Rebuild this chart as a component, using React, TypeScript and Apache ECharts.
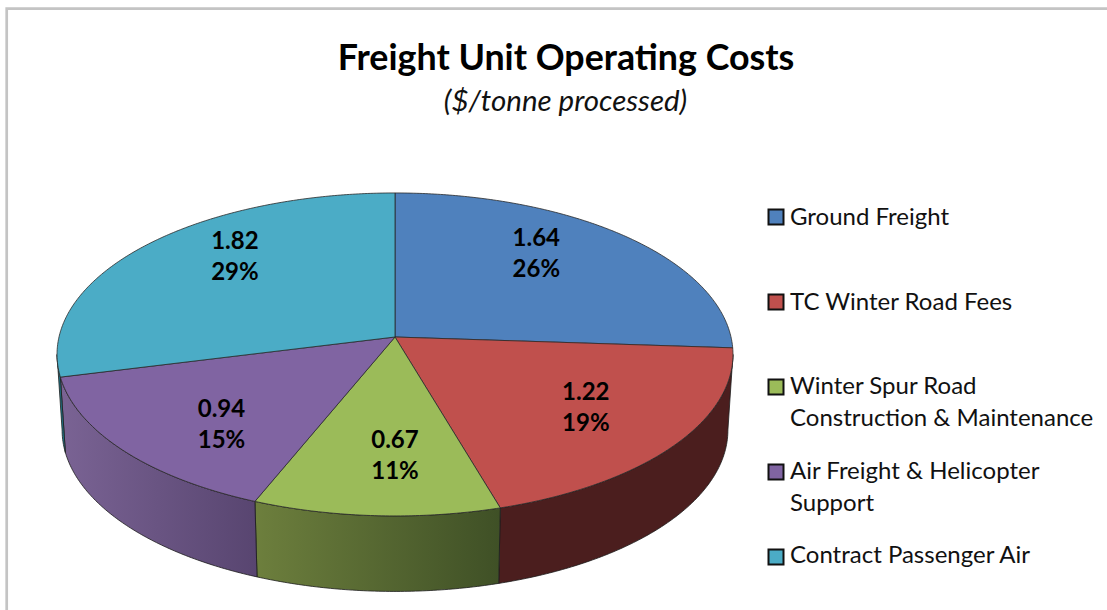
import React, { useEffect, useRef } from "react";
import * as echarts from "echarts";

const categories = ["Ground Freight", "TC Winter Road Fees", "Winter Spur Road\nConstruction & Maintenance", "Air Freight & Helicopter\nSupport", "Contract Passenger Air"];
const costValues = [1.64, 1.22, 0.67, 0.94, 1.82];
const topColors = ["#4f81bd", "#c0504d", "#9bbb59", "#8064a2", "#4bacc6"];
const wallStops = [
  ["#2f4f78", "#2f4f78"],
  ["#4b1e1e", "#4b1e1e"],
  ["#6d7f3d", "#3f5026"],
  ["#7a6394", "#584570"],
  ["#1f7486", "#1f7486"],
];
const labelNudges = [[-5, -20], [11, 0], [12, 3], [1, 14], [-1, -23]];

const FONT = "Lato";
const CX = 395, CY = 337, RX = 336, RY = 159.6, K = 0.108, DEPTH = 75.5, BOTTOM_SHRINK = 0.985;
const total = costValues.reduce((a, b) => a + b, 0);
const WALL_FROM = Math.PI - Math.acos(K);
const WALL_TO = Math.PI + Math.acos(K);

function project(theta: number, f = 1): [number, number] {
  const s = 1 / (1 + K * Math.cos(theta));
  return [CX + RX * f * Math.sin(theta) * s, CY - RY * f * Math.cos(theta) * s];
}
function arc(a: number, b: number): [number, number][] {
  const n = Math.max(2, Math.ceil(Math.abs(b - a) / 0.01));
  const pts: [number, number][] = [];
  for (let i = 0; i <= n; i++) pts.push(project(a + ((b - a) * i) / n));
  return pts;
}
function lower(p: [number, number]): [number, number] {
  return [CX + (p[0] - CX) * BOTTOM_SHRINK, p[1] + DEPTH];
}

export default function App() {
  const ref = useRef<HTMLDivElement>(null);
  useEffect(() => {
    document.body.style.margin = "0";
    const chart = echarts.init(ref.current!, undefined, { renderer: "svg" });
    let cum = 0;
    const rows = costValues.map((v) => {
      const start = (cum / total) * Math.PI * 2;
      cum += v;
      return [v, start, (cum / total) * Math.PI * 2];
    });

    const legendGraphics: any[] = [];
    categories.forEach((name, i) => {
      const y = 217 + 85 * i;
      const textY = 215.5 + 84.6 * i;
      legendGraphics.push({
        type: "rect",
        shape: { x: 768.5, y: y - 7.5, width: 15, height: 15 },
        style: { fill: topColors[i], stroke: "#111", lineWidth: 2 },
      });
      name.split("\n").forEach((line, j) => {
        legendGraphics.push({
          type: "text",
          x: 790,
          y: textY + j * 32,
          style: { text: line, font: `24px ${FONT}`, fill: "#111", verticalAlign: "middle" },
        });
      });
    });

    chart.setOption({
      animation: false,
      backgroundColor: "#ffffff",
      title: [
        {
          text: "Freight Unit Operating Costs",
          left: 561,
          top: 33,
          textAlign: "center",
          textStyle: { fontFamily: FONT, fontWeight: "bold", fontSize: 35.8, color: "#000" },
        },
        {
          text: "($/tonne processed)",
          left: 560.5,
          top: 79,
          textAlign: "center",
          textStyle: { fontFamily: FONT, fontStyle: "italic", fontWeight: "normal", fontSize: 29.5, color: "#111" },
        },
      ],
      graphic: [
        {
          type: "polyline",
          shape: { points: [[6.7, 610], [6.7, 8.7], [1107, 8.7]] },
          style: { stroke: "#c4c4c4", lineWidth: 2.7, fill: "none" },
        },
        ...legendGraphics,
      ],
      series: [
        {
          type: "custom",
          coordinateSystem: "none",
          silent: true,
          data: rows,
          renderItem: (_params: any, api: any) => {
            const i = _params.dataIndex;
            const value = api.value(0);
            const a = api.value(1);
            const b = api.value(2);
            const children: any[] = [];
            const wa = Math.max(a, WALL_FROM);
            const wb = Math.min(b, WALL_TO);
            if (wb > wa) {
              const top = arc(wa, wb);
              children.push({
                type: "polygon",
                z2: 1,
                shape: { points: [...top, ...top.slice().reverse().map(lower)] },
                style: {
                  fill: new echarts.graphic.LinearGradient(0, 0, 1, 0, [
                    { offset: 0, color: wallStops[i][0] },
                    { offset: 1, color: wallStops[i][1] },
                  ]),
                  stroke: "#1c1c1c",
                  lineWidth: 0.8,
                  lineJoin: "round",
                },
              });
            }
            children.push({
              type: "polygon",
              z2: 2,
              shape: { points: [[CX, CY], ...arc(a, b)] },
              style: { fill: topColors[i], stroke: "#2a2a2a", lineWidth: 0.8, lineJoin: "round" },
            });
            const [lx, ly] = project((a + b) / 2, 0.64);
            const px = lx + labelNudges[i][0];
            const py = ly + labelNudges[i][1];
            [value.toFixed(2), `${Math.round((value / total) * 100)}%`].forEach((t, j) => {
              children.push({
                type: "text",
                z2: 3,
                x: px,
                y: py + (j === 0 ? -15.5 : 15.5),
                style: {
                  text: t,
                  font: `bold 24px ${FONT}`,
                  fill: "#000",
                  align: "center",
                  verticalAlign: "middle",
                },
              });
            });
            return { type: "group", children };
          },
        },
      ],
    });
    return () => chart.dispose();
  }, []);
  return <div ref={ref} style={{ width: 1107, height: 610 }} />;
}
